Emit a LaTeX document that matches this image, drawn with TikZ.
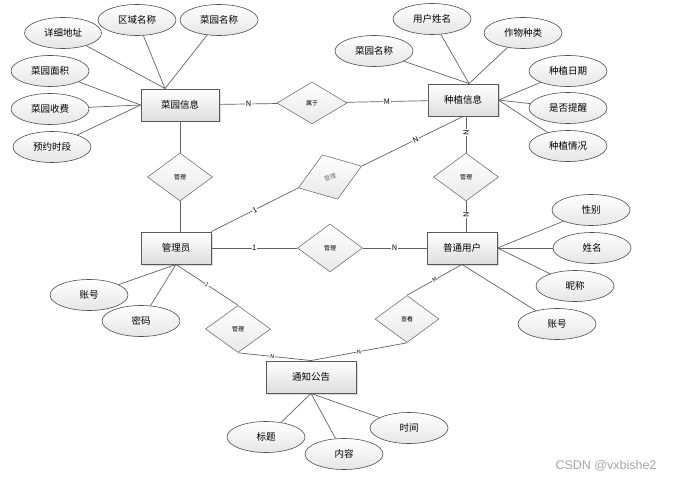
\documentclass[tikz,border=0pt]{standalone}
\usepackage{fontspec}
\setmainfont{Noto Sans CJK SC}
\newfontfamily\markfont{Liberation Sans}
\usetikzlibrary{shapes.geometric}
\usetikzlibrary{shadows}

\begin{document}
\begin{tikzpicture}[x=1pt,y=-1pt,
    entity/.style={draw=black!65,line width=0.9pt,top color=white,bottom color=black!13,
        minimum width=70pt,minimum height=32pt,inner sep=0pt,font=\fontsize{9.5}{11}\selectfont,
        drop shadow={shadow xshift=1.5pt,shadow yshift=-1.5pt,opacity=0.3}},
    attr/.style={ellipse,draw=black!70,line width=0.6pt,top color=white,bottom color=black!10,
        minimum width=78pt,minimum height=31pt,inner sep=0pt,font=\fontsize{9.5}{11}\selectfont},
    rel/.style={diamond,draw=black!55,line width=0.6pt,top color=white,bottom color=black!9,
        minimum width=65pt,minimum height=48pt,inner sep=0pt,font=\fontsize{6}{7}\selectfont},
    card/.style={fill=white,inner sep=0.6pt,font=\fontsize{7.5}{8}\selectfont},
    smallcard/.style={fill=white,inner sep=0.4pt,font=\fontsize{5.5}{6}\selectfont},
    link/.style={draw=black!62,line width=0.7pt}]
    \useasboundingbox (0,0) rectangle (674,481);
    % entities
    \node[entity,minimum width=78pt] (garden) at (180,105) {菜园信息};
    \node[entity] (plant) at (463,100) {种植信息};
    \node[entity] (admin) at (176,248) {管理员};
    \node[entity] (user) at (462,248) {普通用户};
    \node[entity,minimum width=90pt] (notice) at (311,377) {通知公告};
    % relations
    \node[rel,minimum width=70pt,minimum height=42pt] (belong) at (312,103) {属于};
    \node[rel] (gmanage) at (180,177) {管理};
    \node[rel] (umanage) at (466,177) {管理};
    \node[rel] (amanage) at (330,248) {管理};
    \node[rel,minimum width=67pt,minimum height=47pt,rotate=19,text=black!55] (pmanage) at (330,177) {管理};
    \node[rel,minimum height=47pt] (nmanage) at (238,329) {管理};
    \node[rel,minimum width=64pt,minimum height=47pt] (view) at (407,319) {查看};
    % attributes of garden
    \node[attr,minimum width=77pt] (addr) at (63,33) {详细地址};
    \node[attr] (region) at (137,20) {区域名称};
    \node[attr] (gname) at (219,20) {菜园名称};
    \node[attr] (gsize) at (50,71) {菜园面积};
    \node[attr] (gfee) at (50,109) {菜园收费};
    \node[attr] (slot) at (52,147) {预约时段};
    % attributes of plant
    \node[attr] (pgarden) at (374,51) {菜园名称};
    \node[attr] (puser) at (432,19) {用户姓名};
    \node[attr] (crop) at (523,33) {作物种类};
    \node[attr] (pdate) at (568,71) {种植日期};
    \node[attr] (remind) at (568,108) {是否提醒};
    \node[attr] (pstate) at (568,146) {种植情况};
    % attributes of admin
    \node[attr] (aacc) at (89,295) {账号};
    \node[attr] (apwd) at (141,321) {密码};
    % attributes of user
    \node[attr] (sex) at (591,210) {性别};
    \node[attr] (uname) at (592,248) {姓名};
    \node[attr] (nick) at (575,286) {昵称};
    \node[attr] (uacc) at (557,324) {账号};
    % attributes of notice
    \node[attr] (title) at (266,437) {标题};
    \node[attr] (content) at (344,454) {内容};
    \node[attr] (ntime) at (409,428) {时间};
    % attribute links
    \coordinate (gtop) at ([xshift=-15pt]garden.north);
    \coordinate (ptop) at ([xshift=6pt]plant.north);
    \draw[link] (addr) -- (gtop);
    \draw[link] (region) -- (gtop);
    \draw[link] (gname) -- (gtop);
    \draw[link] (gsize) -- (garden.west);
    \draw[link] (gfee) -- (garden.west);
    \draw[link] (slot) -- (garden.west);
    \draw[link] (pgarden) -- (ptop);
    \draw[link] (puser) -- (ptop);
    \draw[link] (crop) -- (ptop);
    \draw[link] (pdate) -- (plant.east);
    \draw[link] (remind) -- (plant.east);
    \draw[link] (pstate) -- (plant.east);
    \draw[link] (aacc) -- (admin.south);
    \draw[link] (apwd) -- (admin.south);
    \draw[link] (sex) -- (user.east);
    \draw[link] (uname) -- (user.east);
    \draw[link] (nick) -- (user.east);
    \draw[link] (uacc) -- (user.south);
    \draw[link] (title) -- (notice.south);
    \draw[link] (content) -- (notice.south);
    \draw[link] (ntime) -- (notice.south);
    % relation links
    \draw[link] (garden) -- node[card] {N} (belong);
    \draw[link] (belong) -- node[card] {M} (plant);
    \draw[link] (garden) -- (gmanage);
    \draw[link] (gmanage.south) -- (gmanage.south |- admin.north);
    \draw[link] (plant.south -| umanage.north) -- node[card,pos=0.45,rotate=90] {N} (umanage.north);
    \draw[link] (umanage.south) -- node[card,pos=0.45,rotate=90] {N} (umanage.south |- user.north);
    \draw[link] (admin) -- node[card] {1} (amanage);
    \draw[link] (amanage) -- node[card] {N} (user);
    \draw[link] (admin.north east) -- node[card,sloped] {1} (pmanage.west);
    \draw[link] (pmanage.east) -- node[card,sloped,pos=0.53] {N} (plant.south);
    \draw[link] (admin.south) -- node[smallcard,sloped] {1} (nmanage.north);
    \draw[link] (nmanage.south) -- node[smallcard,sloped,pos=0.47] {N} (notice.north);
    \draw[link] (user.south) -- node[smallcard,sloped] {M} (view.north);
    \draw[link] (view.south) -- node[smallcard,sloped] {N} (notice.north);
    \node[font=\markfont\fontsize{12.5}{14}\selectfont,text=black!35] (mark) at (606,466) {CSDN @vxbishe2};
\end{tikzpicture}
\end{document}
